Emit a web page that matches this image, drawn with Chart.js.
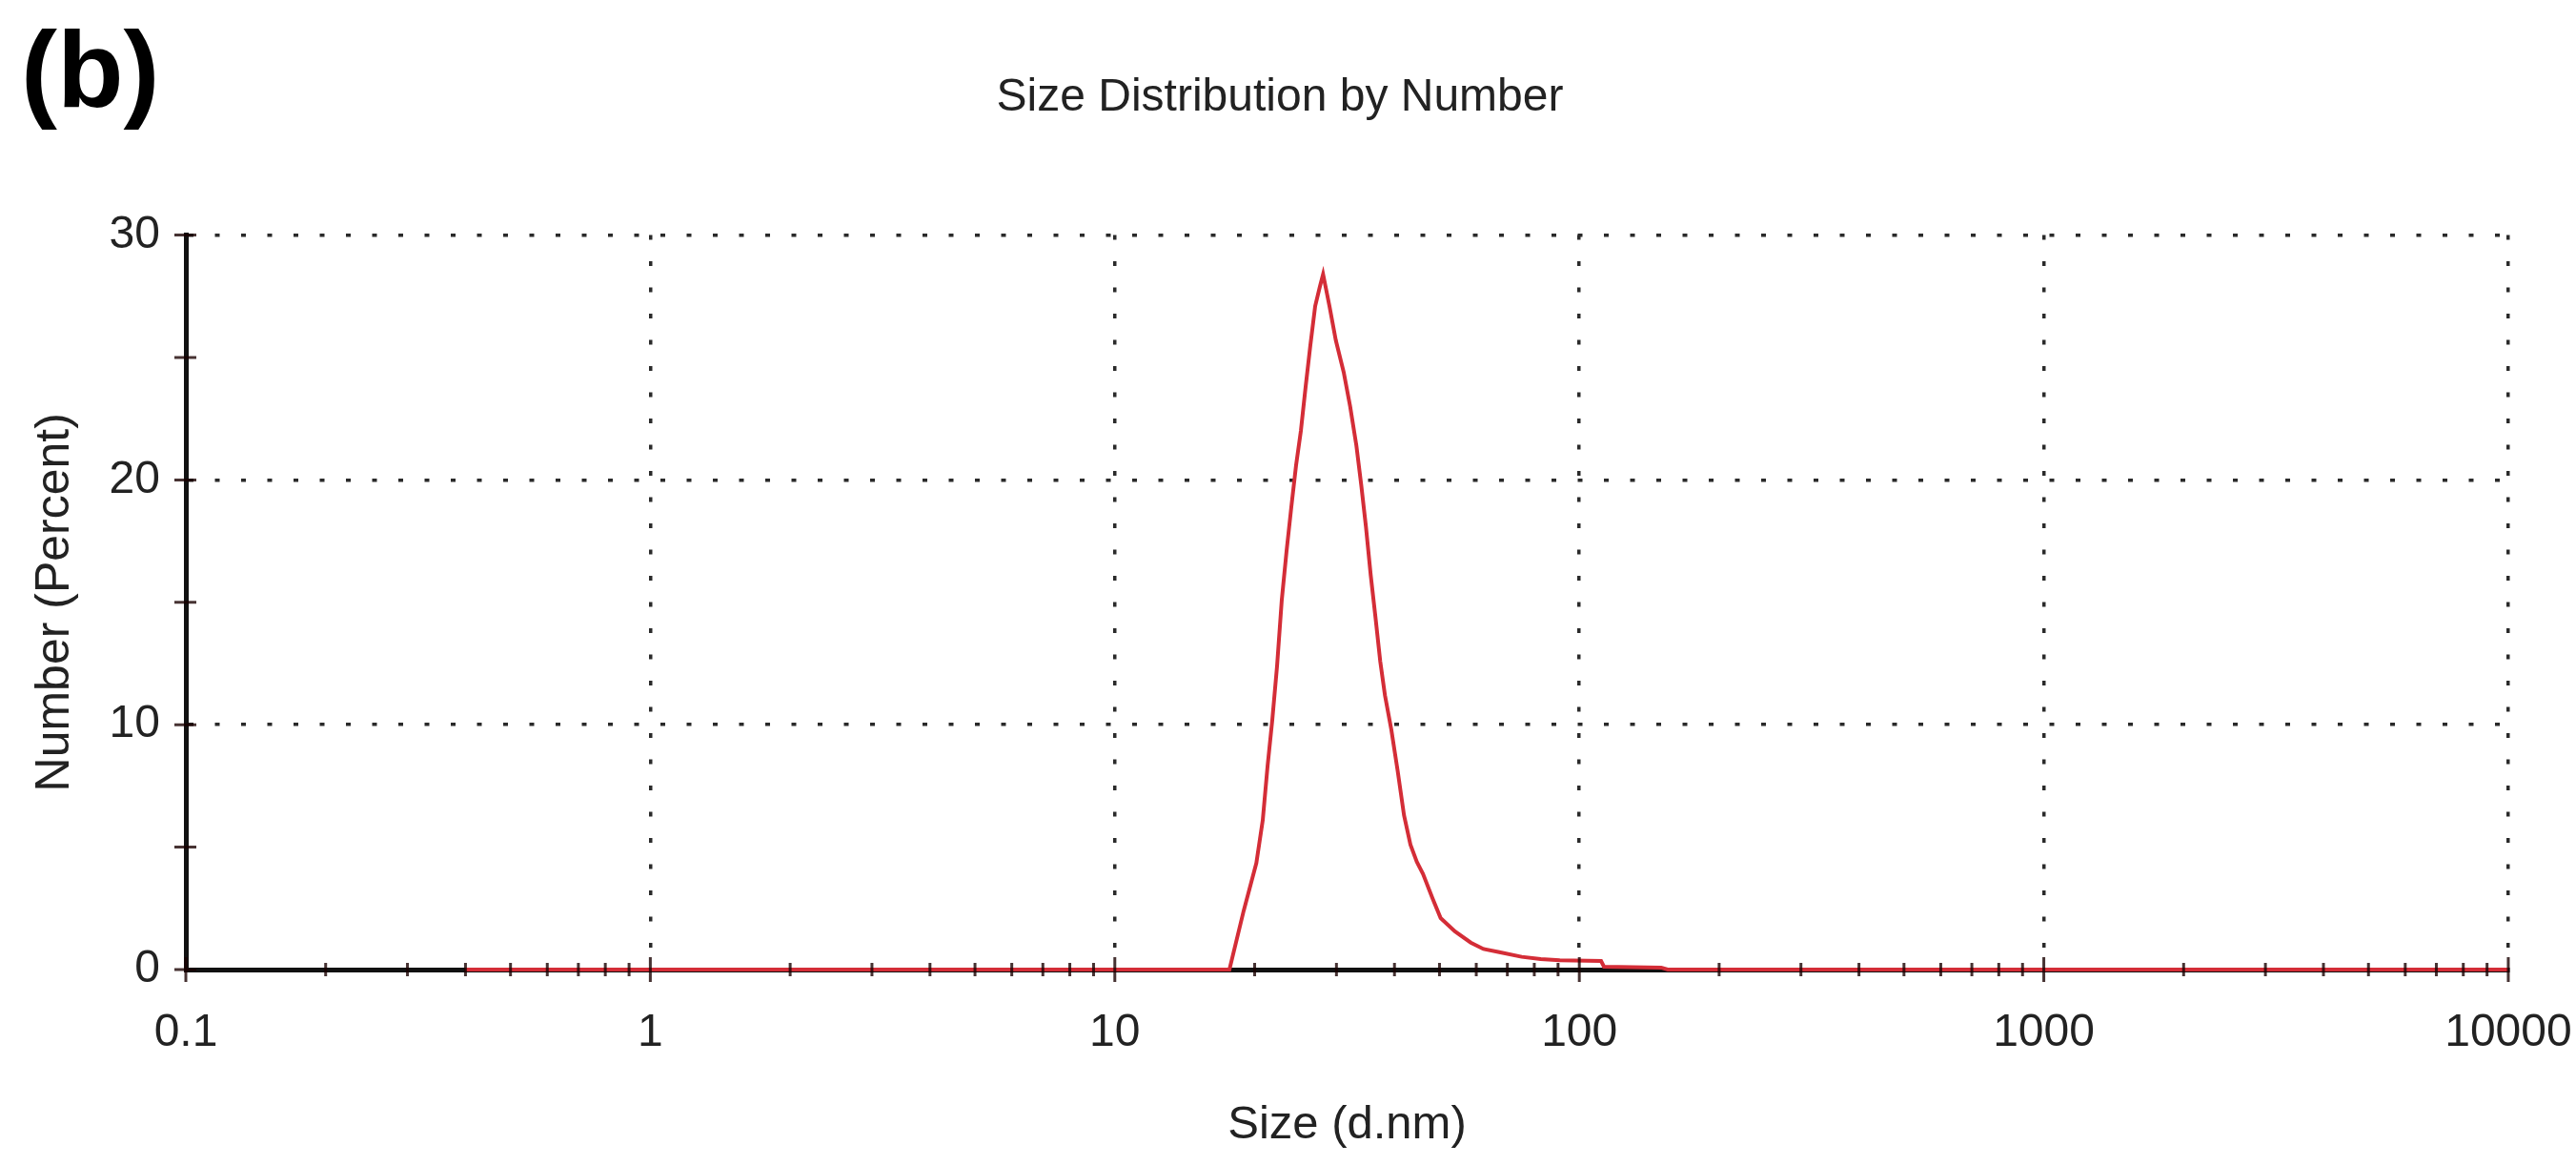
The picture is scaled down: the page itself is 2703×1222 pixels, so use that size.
<!DOCTYPE html>
<html>
<head>
<meta charset="utf-8">
<script src="https://cdn.jsdelivr.net/npm/chart.js@4.4.1/dist/chart.umd.min.js"></script>
<style>
  html, body { margin: 0; padding: 0; background: #fff; }
  #wrap { width: 2703px; height: 1222px; }
</style>
</head>
<body>
<div id="wrap"><canvas id="chart" width="2703" height="1222"></canvas></div>
<script>
// size (d.nm) and number (%)
const sizeNm = [0.4, 17.65, 18.94, 20.17, 20.82, 21.32, 21.83, 22.35, 22.88, 23.43, 23.99,
  24.56, 25.15, 25.75, 26.36, 27.0, 27.64, 28.08, 28.98, 29.91, 31.1,
  32.11, 33.12, 33.92, 34.72, 35.56, 36.4, 37.27, 38.16, 39.38, 40.65,
  41.94, 43.29, 44.68, 46.09, 48.32, 50.29, 53.97, 58.38, 62.2, 67.27,
  75.13, 82.59, 90.76, 111.4, 113.0, 150.0, 155.0, 10000];
const numberPct = [0, 0, 2.4, 4.35, 6.1, 8.3, 10.2, 12.4, 15.1, 17.1, 18.9,
  20.6, 22.0, 23.8, 25.5, 27.1, 27.9, 28.4, 27.1, 25.7, 24.4,
  23.0, 21.4, 19.8, 18.1, 16.1, 14.4, 12.6, 11.2, 9.8, 8.1,
  6.3, 5.1, 4.4, 3.9, 2.9, 2.1, 1.56, 1.1, 0.84, 0.71,
  0.52, 0.43, 0.38, 0.35, 0.12, 0.08, 0, 0];

const xMajorTicks = [0.1, 1, 10, 100, 1000, 10000];
const yMajorTicks = [0, 10, 20, 30];
const yMinorTicks = [5, 15, 25];

const chartTitle = 'Size Distribution by Number';
const xTitle = 'Size (d.nm)';
const yTitle = 'Number (Percent)';
const panelLabel = '(b)';

const FONT = "'Liberation Sans', Arial, sans-serif";
const TEXT = '#222';

// small marks crossing both axes, plus the panel letter
const axisMarks = {
  id: 'axisMarks',
  afterDatasetsDraw(chart) {
    const { ctx, scales: { x, y } } = chart;
    const y0 = y.getPixelForValue(0);
    const x0 = x.getPixelForValue(x.min);
    ctx.save();
    ctx.strokeStyle = 'rgba(25,0,0,0.8)';
    ctx.lineWidth = 3;
    ctx.beginPath();
    for (let d = 0; d < xMajorTicks.length; d++) {
      const base = xMajorTicks[d];
      const px = x.getPixelForValue(base);
      ctx.moveTo(px, y0 - 13);
      ctx.lineTo(px, y0 + 13);
      if (d === xMajorTicks.length - 1) break;
      for (let m = 2; m <= 9; m++) {
        const mx = x.getPixelForValue(base * m);
        ctx.moveTo(mx, y0 - 7);
        ctx.lineTo(mx, y0 + 7);
      }
    }
    yMajorTicks.concat(yMinorTicks).forEach(v => {
      const py = y.getPixelForValue(v);
      ctx.moveTo(x0 - 12, py);
      ctx.lineTo(x0 + 11, py);
    });
    ctx.stroke();
    ctx.restore();
  },
  afterDraw(chart) {
    const { ctx } = chart;
    ctx.save();
    ctx.fillStyle = '#000';
    ctx.font = "bold 114px " + FONT;
    ctx.textBaseline = 'alphabetic';
    ctx.textAlign = 'left';
    ctx.fillText(panelLabel, 22, 112);
    ctx.restore();
  }
};

new Chart(document.getElementById('chart'), {
  type: 'line',
  data: {
    datasets: [{
      data: sizeNm.map((s, i) => ({ x: s, y: numberPct[i] })),
      borderColor: 'rgb(212,45,55)',
      borderWidth: 4,
      pointRadius: 0,
      tension: 0,
      fill: false,
      clip: 10
    }]
  },
  options: {
    responsive: false,
    animation: false,
    devicePixelRatio: 1,
    // right padding keeps the title centred; the "10000" label sets the plot's right edge
    layout: { padding: { top: 0, right: 17, bottom: 0, left: 0 } },
    plugins: {
      legend: { display: false },
      tooltip: { enabled: false },
      title: {
        display: true,
        text: chartTitle,
        color: TEXT,
        font: { family: FONT, size: 48, weight: 'normal' },
        padding: { top: 74, bottom: 115 }
      }
    },
    scales: {
      x: {
        type: 'logarithmic',
        min: 0.1,
        max: 10000,
        afterBuildTicks: (s) => { s.ticks = xMajorTicks.map(v => ({ value: v })); },
        afterFit: (s) => { s.height = 205; },
        ticks: {
          autoSkip: false,
          maxRotation: 0,
          padding: 4.3,
          color: TEXT,
          font: { family: FONT, size: 48 },
          callback: (v) => String(v)
        },
        grid: { drawTicks: true, tickLength: 34, tickColor: 'rgba(0,0,0,0)', color: '#2a2a2a', lineWidth: 3.5 },
        border: { display: true, color: '#111', width: 5, dash: [5, 22.5] },
        title: {
          display: true,
          text: xTitle,
          color: TEXT,
          font: { family: FONT, size: 49 },
          padding: { top: 0, bottom: 12 }
        }
      },
      y: {
        type: 'linear',
        min: 0,
        max: 30,
        afterBuildTicks: (s) => { s.ticks = yMajorTicks.map(v => ({ value: v })); },
        afterFit: (s) => { s.width = 195; },
        ticks: {
          padding: 27,
          color: TEXT,
          font: { family: FONT, size: 48 }
        },
        grid: { drawTicks: false, color: '#2a2a2a', lineWidth: 3.5 },
        border: { display: true, color: '#111', width: 5, dash: [5, 22.5] },
        title: {
          display: true,
          text: yTitle,
          color: TEXT,
          font: { family: FONT, size: 50 },
          padding: { top: 28, bottom: 0 }
        }
      }
    }
  },
  plugins: [axisMarks]
});
</script>
</body>
</html>
